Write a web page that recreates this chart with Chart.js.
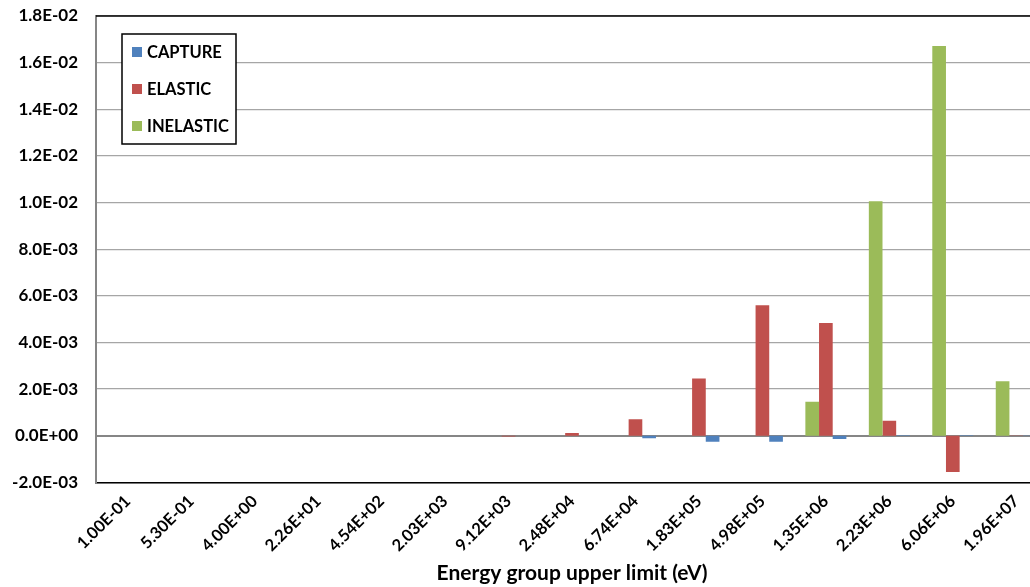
<!DOCTYPE html>
<html>
<head>
<meta charset="utf-8">
<script src="https://cdn.jsdelivr.net/npm/chart.js@4.4.1/dist/chart.umd.min.js"></script>
<style>
  html, body { margin: 0; padding: 0; background: #fff; overflow: hidden; }
  #wrap { width: 1060px; height: 587px; }
</style>
</head>
<body>
<div id="wrap"><canvas id="chart"></canvas></div>
<script>
// energy group upper limits (eV)
const categories = ['1.00E-01', '5.30E-01', '4.00E+00', '2.26E+01', '4.54E+02', '2.03E+03', '9.12E+03',
  '2.48E+04', '6.74E+04', '1.83E+05', '4.98E+05', '1.35E+06', '2.23E+06', '6.06E+06', '1.96E+07'];

const capture = [0, 0, 0, 0, 0, 0, 0, 0, -0.00011, -0.00026, -0.00026, -0.00014, 0.00002, 0.00002, 0.00001];
const elastic = [0, 0, 0, 0, 0, 0, -0.00003, 0.00012, 0.00071, 0.00246, 0.0056, 0.00483, 0.00064, -0.00155, 0.00001];
const inelastic = [0, 0, 0, 0, 0, 0, 0, 0, 0, 0, 0, 0.00146, 0.01006, 0.01671, 0.00234];

const yMin = -0.002;
const yMax = 0.018;
const yStep = 0.002;

const FONT = "Lato, 'Liberation Sans', Arial, sans-serif";

// 1.8E-02 style labels
function sci(v) {
  if (Math.abs(v) < 1e-12) v = 0;
  const [m, e] = Number(v).toExponential(1).split('e');
  const sign = e[0] === '-' ? '-' : '+';
  return m + 'E' + sign + e.replace(/[+-]/, '').padStart(2, '0');
}

// boxed legend in the top-left of the plot, plus the black frame line on top
const frameAndLegend = {
  id: 'frameAndLegend',
  afterDraw(chart) {
    const { ctx, chartArea } = chart;
    ctx.save();
    ctx.strokeStyle = '#000';
    ctx.lineWidth = 1.5;
    ctx.beginPath();
    ctx.moveTo(chartArea.left, chartArea.top);
    ctx.lineTo(chartArea.right, chartArea.top);
    ctx.stroke();

    ctx.fillStyle = '#fff';
    ctx.fillRect(122, 34, 114, 110);
    ctx.strokeRect(122, 34, 114, 110);

    const items = chart.data.datasets.slice().reverse();
    ctx.font = 'bold 16.5px ' + FONT;
    ctx.textBaseline = 'middle';
    items.forEach((ds, i) => {
      const y = 52 + i * 37;
      ctx.fillStyle = ds.backgroundColor;
      ctx.fillRect(132, y - 5, 10, 10);
      ctx.fillStyle = '#000';
      ctx.fillText(ds.label, 147, y + 1);
    });
    ctx.restore();
  }
};

const ctx = document.getElementById('chart').getContext('2d');
new Chart(ctx, {
  type: 'bar',
  data: {
    labels: categories,
    datasets: [
      { label: 'INELASTIC', data: inelastic, backgroundColor: '#9BBB59' },
      { label: 'ELASTIC', data: elastic, backgroundColor: '#C0504D' },
      { label: 'CAPTURE', data: capture, backgroundColor: '#4F81BD' }
    ]
  },
  options: {
    responsive: true,
    maintainAspectRatio: false,
    animation: false,
    layout: { padding: { top: 16, right: 12, left: 0, bottom: 0 } },
    datasets: {
      bar: { barPercentage: 1, categoryPercentage: 0.646 }
    },
    plugins: {
      legend: { display: false },
      tooltip: { enabled: false }
    },
    scales: {
      x: {
        grid: { display: false, drawTicks: false },
        border: { display: true, color: '#000', width: 1.5 },
        ticks: {
          autoSkip: false,
          minRotation: 45,
          maxRotation: 45,
          padding: 9,
          color: '#000',
          font: { family: FONT, size: 16.5, weight: 'bold' }
        },
        title: {
          display: true,
          text: 'Energy group upper limit (eV)',
          color: '#000',
          padding: { top: 0, bottom: 1 },
          font: { family: FONT, size: 21, weight: 'bold' }
        },
        afterFit(scale) { scale.height = 104.6; }
      },
      y: {
        min: yMin,
        max: yMax,
        ticks: {
          stepSize: yStep,
          padding: 18,
          color: '#000',
          font: { family: FONT, size: 17, weight: 'bold' },
          callback: (v) => sci(v)
        },
        grid: {
          drawTicks: false,
          color: (c) => Math.abs(c.tick.value) < 1e-12 ? '#868686' : '#a6a6a6',
          lineWidth: (c) => Math.abs(c.tick.value) < 1e-12 ? 2 : 1.3
        },
        border: { display: true, color: '#868686', width: 2 },
        afterFit(scale) {
          scale.width = 96;
          scale.paddingTop = 0;
          scale.paddingBottom = 0;
        }
      }
    }
  },
  plugins: [frameAndLegend]
});
</script>
</body>
</html>
